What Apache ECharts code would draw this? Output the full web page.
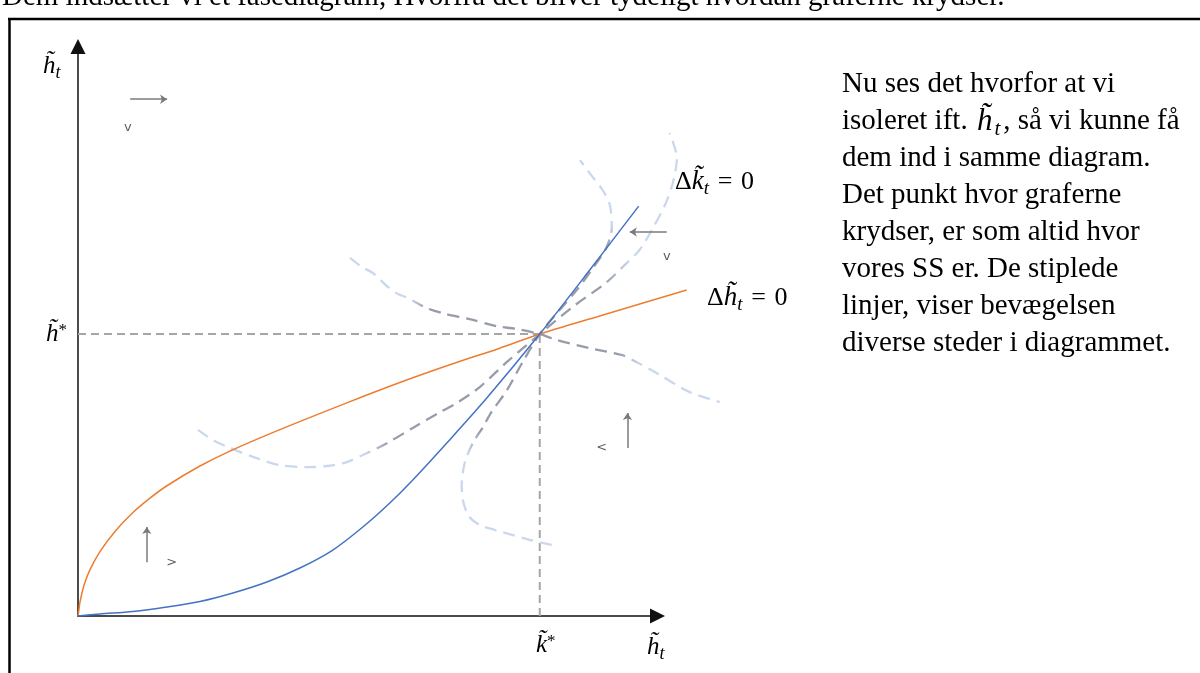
<!DOCTYPE html>
<html><head><meta charset="utf-8">
<script src="https://cdn.jsdelivr.net/npm/echarts@6/dist/echarts.min.js"></script>
<style>html,body{margin:0;padding:0;background:#fff}#c{width:1200px;height:673px}</style>
</head><body><div id="c"></div>
<script>
// ---------- data (x = k̃, y = h̃ ; steady state at k* = 10, h* = 10) ----------
const steadyState = [10, 10];
const hNullcline = [[0,0],[0.022,0.248],[0.043,0.496],[0.13,1.092],[0.26,1.645],[0.476,2.284],[0.801,3.0],[1.19,3.67],[1.558,4.18],[1.926,4.62],[2.641,5.32],[3.29,5.85],[4.372,6.61],[5.823,7.56],[6.97,8.28],[8.052,8.91],[9.134,9.5],[10,10],[11.299,10.64],[12.381,11.17],[13.182,11.56]];
const kNullcline = [[0,0],[0.476,0.071],[1.19,0.16],[1.926,0.319],[2.641,0.514],[3.355,0.816],[4.091,1.206],[4.805,1.702],[5.519,2.34],[6.169,3.156],[6.753,4.007],[7.251,4.823],[7.987,6.135],[8.853,7.73],[10,10],[11.082,12.27],[12.143,14.539]];
const pathA = [[5.89,12.7],[6.15,12.38],[6.39,12.16],[6.71,11.67],[6.9,11.45],[7.14,11.28],[7.34,11.1],[7.55,10.92],[7.9,10.74],[8.48,10.53],[9.07,10.28],[9.5,10.18],[10,10],[10.37,9.79],[11.08,9.5],[11.77,9.26],[12.01,9.08],[12.53,8.62],[13.25,7.94],[13.9,7.59]];
const pathB = [[2.6,6.6],[2.92,6.24],[3.29,5.96],[3.87,5.6],[4.37,5.35],[4.96,5.28],[5.39,5.32],[5.82,5.46],[6.26,5.78],[6.69,6.13],[7.25,6.67],[7.84,7.23],[8.2,7.55],[8.7,8.12],[9.29,9.01],[10,10],[10.71,10.96],[11.45,11.84],[11.84,12.45],[12.16,12.98],[12.45,13.76],[12.71,14.57],[12.88,15.35],[12.97,16.24],[12.81,17.13]];
const pathC = [[10.26,2.52],[9.78,2.7],[9.42,2.87],[9.03,3.05],[8.7,3.23],[8.48,3.51],[8.35,4.01],[8.31,4.65],[8.38,5.46],[8.55,6.13],[8.77,6.7],[8.94,7.2],[9.29,8.01],[9.63,9.01],[10,10],[10.37,10.74],[10.8,11.56],[11.15,12.34],[11.45,13.09],[11.56,13.79],[11.52,14.57],[11.36,15.11],[11.08,15.71],[10.87,16.17]];
const motionArrows = [
  [[1.13,18.33],[1.93,18.33]],
  [[12.75,13.62],[11.95,13.62]],
  [[11.9,5.96],[11.9,7.2]],
  [[1.49,1.91],[1.49,3.16]]
];
const arrowMarks = [[1.08,17.34,'v'],[12.75,12.73,'v'],[11.34,5.96,'<'],[2.03,1.88,'>']];
const tickLabelX = '{i|k\u0303}{p|*}';
const tickLabelY = '{i|h\u0303}{p|*}';
const nameX = '{i|h\u0303}{s|t}';
const nameY = '{i|h\u0303}{s|t}';
const labelK = '{u|\u0394}{i|k\u0303}{s|t}{u|\u2004=\u20040}';
const labelH = '{u|\u0394}{i|h\u0303}{s|t}{u|\u2004=\u20040}';
const noteLines = [
  'Nu ses det hvorfor at vi',
  'isoleret ift. {mi|h\u0303}{ms|t}, så vi kunne få',
  'dem ind i samme diagram.',
  'Det punkt hvor graferne',
  'krydser, er som altid hvor',
  'vores SS er. De stiplede',
  'linjer, viser bevægelsen',
  'diverse steder i diagrammet.'
];
const topLine = 'Dem indsætter vi et fasediagram, Hvorfra det bliver tydeligt hvordan graferne krydser.';

// ---------- layout ----------
const X_MAX = 12.55, Y_MAX = 20.2, X_MAX_DATA = 15;
const G = {left:78, top:46.5, bottom:57, width:579.5};
const dataWidth = G.width * X_MAX_DATA / X_MAX;

const MATH = 'Liberation Serif';
const LIGHT = '#cad7ed', DARK = '#969ca8';
function grad(vertical, stops) {
  return {type:'linear', x:0, y:0, x2: vertical ? 0 : 1, y2: vertical ? 1 : 0,
    colorStops: stops.map(s => ({offset:s[0], color:s[1]}))};
}
const onData = {xAxisIndex:1, yAxisIndex:1};
function traj(data, g) {
  return Object.assign({type:'line', data, smooth:0.3, symbol:'none', clip:false, silent:true, z:3,
    lineStyle:{width:2.3, type:[12,7], color:g}}, onData);
}
const mathRich = {
  i:{fontFamily:MATH, fontStyle:'italic', fontSize:25, color:'#000'},
  u:{fontFamily:MATH, fontSize:25, color:'#000'},
  s:{fontFamily:MATH, fontStyle:'italic', fontSize:18, color:'#000', verticalAlign:'bottom', lineHeight:22},
  p:{fontFamily:MATH, fontSize:17, color:'#000', verticalAlign:'top', lineHeight:22}
};
const labelRich = {
  i:{fontFamily:MATH, fontStyle:'italic', fontSize:27, color:'#000'},
  u:{fontFamily:MATH, fontSize:26, color:'#000'},
  s:{fontFamily:MATH, fontStyle:'italic', fontSize:19, color:'#000', verticalAlign:'bottom', lineHeight:22},
};
const mathText = (text, x, y, rich) => ({type:'text', x, y, silent:true, z:10,
  style:{text, fontFamily:MATH, fontSize:24, fill:'#000', lineHeight:32, align:'left', verticalAlign:'middle', rich:rich || mathRich}});

const hiddenAxis = {show:false, type:'value', min:0};
const chart = echarts.init(document.getElementById('c'));
chart.setOption({
  backgroundColor:'#fff',
  animation:false,
  grid:[
    {left:G.left, top:G.top, bottom:G.bottom, width:G.width, containLabel:false, outerBoundsMode:'none'},
    {left:G.left, top:G.top, bottom:G.bottom, width:dataWidth, containLabel:false, outerBoundsMode:'none'}
  ],
  xAxis:[
    {type:'value', gridIndex:0, min:0, max:X_MAX,
      axisLine:{show:true, onZero:true, symbol:['none','triangle'], symbolSize:[15,15], lineStyle:{color:'#111', width:1.5}},
      axisTick:{show:false}, splitLine:{show:false},
      axisLabel:{customValues:[steadyState[0]], formatter:() => tickLabelX, margin:17, padding:[0,0,0,12], rich:mathRich}},
    Object.assign({gridIndex:1, max:X_MAX_DATA}, hiddenAxis)
  ],
  yAxis:[
    {type:'value', gridIndex:0, min:0, max:Y_MAX,
      axisLine:{show:true, onZero:true, symbol:['none','triangle'], symbolSize:[15,15], lineStyle:{color:'#111', width:1.5}},
      axisTick:{show:false}, splitLine:{show:false},
      axisLabel:{customValues:[steadyState[1]], formatter:() => tickLabelY, margin:11, rich:mathRich}},
    Object.assign({gridIndex:1, max:Y_MAX}, hiddenAxis)
  ],
  series:[
    Object.assign({type:'line', data:[[0,steadyState[1]],steadyState], symbol:'none', silent:true, z:1,
      lineStyle:{color:'#a6a6a6', width:2, type:[8,5]}}, onData),
    Object.assign({type:'line', data:[[steadyState[0],0],steadyState], symbol:'none', silent:true, z:1,
      lineStyle:{color:'#a6a6a6', width:2, type:[8,5]}}, onData),
    traj(pathA, grad(false, [[0,LIGHT],[0.17,LIGHT],[0.21,DARK],[0.72,DARK],[0.78,LIGHT],[1,LIGHT]])),
    traj(pathB, grad(false, [[0,LIGHT],[0.35,LIGHT],[0.4,DARK],[0.84,DARK],[0.9,LIGHT],[1,LIGHT]])),
    traj(pathC, grad(true, [[0,LIGHT],[0.17,LIGHT],[0.23,DARK],[0.7,DARK],[0.76,LIGHT],[1,LIGHT]])),
    Object.assign({type:'line', data:hNullcline, smooth:0.3, symbol:'none', clip:false, silent:true, z:4,
      lineStyle:{color:'#ed7d31', width:1.5}}, onData),
    Object.assign({type:'line', data:kNullcline, smooth:0.3, symbol:'none', clip:false, silent:true, z:4,
      lineStyle:{color:'#4472c4', width:1.5}}, onData),
    Object.assign({type:'lines', coordinateSystem:'cartesian2d', clip:false, silent:true, z:5,
      symbol:['none','arrow'], symbolSize:7,
      lineStyle:{color:'#7a7a7a', width:1.5, opacity:1, curveness:0},
      data:motionArrows.map(c => ({coords:c}))}, onData),
    Object.assign({type:'scatter', clip:false, silent:true, z:5, symbolSize:1, itemStyle:{color:'rgba(0,0,0,0)'},
      label:{show:true, position:'inside', fontFamily:'DejaVu Sans', fontSize:13, color:'#333'},
      data:arrowMarks.map(m => ({value:[m[0],m[1]], label:{formatter:m[2]}}))}, onData)
  ],
  graphic:[
    {type:'line', silent:true, shape:{x1:9.5, y1:18, x2:9.5, y2:673}, style:{stroke:'#000', lineWidth:2.5}},
    {type:'line', silent:true, shape:{x1:8, y1:19, x2:1200, y2:19}, style:{stroke:'#000', lineWidth:2.5}},
    {type:'text', x:2, y:-3, silent:true,
      style:{text:topLine, fontFamily:'Liberation Serif', fontSize:29, fill:'#000', verticalAlign:'middle', align:'left'}},
    mathText(nameY, 43, 66),
    mathText(nameX, 647, 647),
    mathText(labelK, 675, 182, labelRich),
    mathText(labelH, 707, 298, labelRich),
    {type:'text', x:842, y:66, silent:true,
      style:{text:noteLines.join('\n'), fontFamily:'Liberation Serif', fontSize:29, fill:'#000',
        lineHeight:37, align:'left', verticalAlign:'top',
        rich:{
          mi:{fontFamily:MATH, fontStyle:'italic', fontSize:31, lineHeight:37, padding:[0,2,0,2]},
          ms:{fontFamily:MATH, fontStyle:'italic', fontSize:21, verticalAlign:'bottom', lineHeight:26, padding:[0,3,0,0]}
        }}}
  ]
});
</script></body></html>
